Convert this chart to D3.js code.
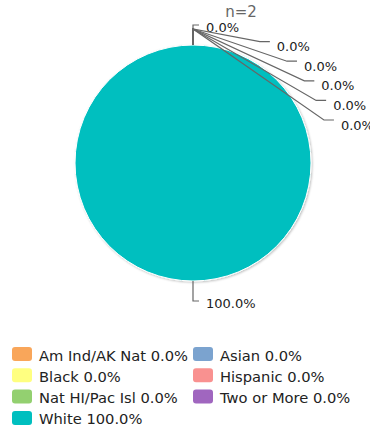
<!DOCTYPE html>
<html>
<head>
<meta charset="utf-8">
<script src="https://cdn.jsdelivr.net/npm/d3@7"></script>
<style>
  html, body { margin: 0; padding: 0; background: #fff; }
  svg { display: block; font-family: "DejaVu Sans", Verdana, sans-serif; }
</style>
</head>
<body>
<svg id="chart" width="370" height="429"></svg>
<script>
const categories = ["Am Ind/AK Nat", "Asian", "Black", "Hispanic", "Nat HI/Pac Isl", "Two or More", "White"];
const values = [0, 0, 0, 0, 0, 0, 100];
const colors = ["#f9a65a", "#7ba3cf", "#ffff80", "#f99190", "#93d070", "#a066bf", "#00bfbf"];
const subtitle = "n=2";

const svg = d3.select("#chart");
const cx = 193, cy = 163, r = 118;

const data = categories.map((c, i) => ({ name: c, value: values[i], color: colors[i] }));
const fmt = v => d3.format(".1f")(v) + "%";
const total = d3.sum(values);

// subtitle
svg.append("text").attr("x", 241).attr("y", 12).attr("text-anchor", "middle")
  .attr("dominant-baseline", "central").attr("fill", "#666").style("font-size", "15px").text(subtitle);

// shadow filter
const defs = svg.append("defs");
const f = defs.append("filter").attr("id", "sh").attr("x", "-20%").attr("y", "-20%").attr("width", "140%").attr("height", "140%");
f.append("feDropShadow").attr("dx", 1).attr("dy", 1).attr("stdDeviation", 1.2).attr("flood-color", "#000").attr("flood-opacity", 0.25);

const pie = d3.pie().value(d => d.value).sort(null);
const arcs = pie(data);
const arc = d3.arc().innerRadius(0).outerRadius(r);

const g = svg.append("g").attr("transform", `translate(${cx},${cy})`);
g.append("g").attr("filter", "url(#sh)").selectAll("path").data(arcs).join("path")
  .attr("d", arc).attr("fill", d => d.data.color).attr("stroke", "#fff").attr("stroke-width", 1);

// label layout
const stub = 20, spacing = 19.6, R = r + 17;
const labels = arcs.map(a => {
  const mid = (a.startAngle + a.endAngle) / 2;
  return { a, mid, ax: Math.sin(mid) * r, ay: -Math.cos(mid) * r, ex: Math.sin(mid) * (r + stub), ey: -Math.cos(mid) * (r + stub) };
});
const right = labels.filter(l => l.mid < Math.PI - 1e-6);
let lastY = -Infinity;
right.forEach(l => {
  const y = Math.max(l.ey, lastY + spacing);
  l.y = y; lastY = y;
  l.pushed = y > l.ey + 0.5;
});
labels.filter(l => l.mid >= Math.PI - 1e-6).forEach(l => { l.y = l.ey; l.pushed = false; });

const lg = g.append("g");
labels.forEach(l => {
  let path, tx;
  if (!l.pushed) {
    path = `M${l.ax},${l.ay}L${l.ex},${l.ey}L${l.ex + 6},${l.ey}`;
    tx = l.ex + 13;
  } else {
    tx = Math.sqrt(Math.max(0, R * R - l.y * l.y)) + 19;
    path = `M${l.ax},${l.ay}L${l.ax},${l.ay - stub + 4}L${tx - 17},${l.y - 3}L${tx - 7},${l.y - 3}`;
  }
  lg.append("path").attr("d", path).attr("fill", "none").attr("stroke", "#666").attr("stroke-width", 1.2);
  lg.append("text").attr("x", tx).attr("y", l.y + 2).attr("dominant-baseline", "central")
    .attr("fill", "#222").style("font-size", "13px").text(fmt(l.a.data.value / total * 100));
});

// legend
const legX = [12, 193], legY0 = 354, legDy = 21.3;
const leg = svg.append("g");
data.forEach((d, i) => {
  const col = i % 2, row = Math.floor(i / 2);
  const x = legX[col], y = legY0 + row * legDy;
  leg.append("rect").attr("x", x).attr("y", y - 7).attr("width", 20).attr("height", 14).attr("rx", 3)
    .attr("fill", d.color);
  leg.append("text").attr("x", x + 27).attr("y", y + 1).attr("dominant-baseline", "central")
    .attr("fill", "#222").style("font-size", "14.7px").text(`${d.name} ${fmt(d.value / total * 100)}`);
});
</script>
</body>
</html>
